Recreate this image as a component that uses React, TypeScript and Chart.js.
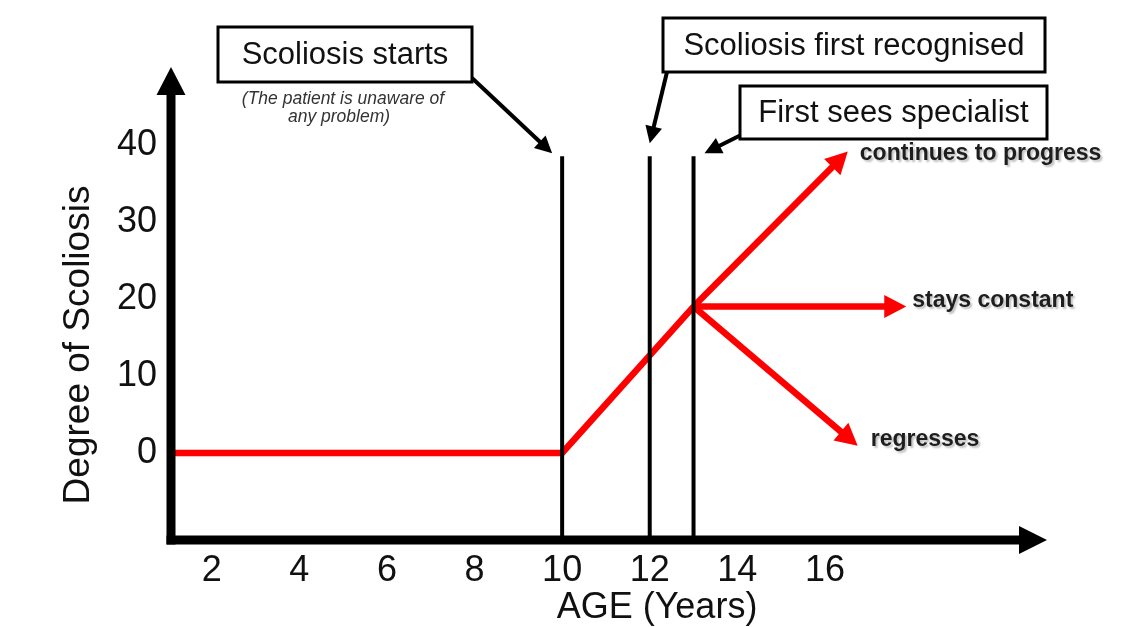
import React, { useEffect, useRef } from "react";
import { Chart, registerables } from "chart.js";

Chart.register(...registerables);

// ---- data ----
const X_TICKS = [2, 4, 6, 8, 10, 12, 14, 16];
const Y_TICKS = [0, 10, 20, 30, 40];
const X_MIN = 1.07;
const X_MAX = 21.07;
const Y_MIN = -11.3;
const Y_MAX = 50.1;

const PATH_AGES = [1.07, 10, 13];
const PATH_DEGREES = [0, 0, 19];

const OUTCOME_LABELS = ["continues to progress", "stays constant", "regresses"];
const OUTCOME_AGES = [16.2, 17.4, 16.4];
const OUTCOME_DEGREES = [37.3, 19, 2.6];

const EVENT_LABELS = ["Scoliosis starts", "Scoliosis first recognised", "First sees specialist"];
const EVENT_AGES = [10, 12, 13];
const EVENT_TOP = 38.5;

const NOTE_LINES = ["(The patient is unaware of", "any problem)"];

const X_TITLE = "AGE (Years)";
const Y_TITLE = "Degree of Scoliosis";

// ---- layout / style (pixels) ----
const FONT = '"Liberation Sans", Arial, Helvetica, sans-serif';
const RED = "#ff0000";
const BOXES = [
  { x: 218, y: 27, w: 254, h: 55 },
  { x: 663, y: 18, w: 382, h: 54 },
  { x: 740, y: 86, w: 307, h: 53 },
];
// start of callout arrow (box corner), tip offset relative to the event line top
const CALLOUT_START = [
  [472, 78],
  [667, 72],
  [741, 135],
];
const CALLOUT_TIP_OFFSET = [
  [-10, -3],
  [0, -13],
  [11, -3],
];
const OUTCOME_LABEL_OFFSET = [
  [12, 2],
  [6, -6],
  [13, -6],
];

function arrowHead(ctx: CanvasRenderingContext2D, fx: number, fy: number, tx: number, ty: number, len: number, half: number, color: string) {
  const a = Math.atan2(ty - fy, tx - fx);
  ctx.save();
  ctx.translate(tx, ty);
  ctx.rotate(a);
  ctx.beginPath();
  ctx.moveTo(0, 0);
  ctx.lineTo(-len, -half);
  ctx.lineTo(-len, half);
  ctx.closePath();
  ctx.fillStyle = color;
  ctx.fill();
  ctx.restore();
}

const annotationPlugin = {
  id: "scoliosisAnnotations",
  afterDatasetsDraw(chart: any) {
    const ctx: CanvasRenderingContext2D = chart.ctx;
    const xs = chart.scales.x;
    const ys = chart.scales.y;
    const area = chart.chartArea;

    ctx.save();

    // red outcome arrowheads + labels
    const jx = xs.getPixelForValue(PATH_AGES[PATH_AGES.length - 1]);
    const jy = ys.getPixelForValue(PATH_DEGREES[PATH_DEGREES.length - 1]);
    OUTCOME_AGES.forEach((age, i) => {
      const ex = xs.getPixelForValue(age);
      const ey = ys.getPixelForValue(OUTCOME_DEGREES[i]);
      const d = Math.hypot(ex - jx, ey - jy);
      const ux = (ex - jx) / d;
      const uy = (ey - jy) / d;
      const tx = ex + ux * 20;
      const ty = ey + uy * 20;
      arrowHead(ctx, jx, jy, tx, ty, 22, 11.5, RED);
      ctx.save();
      ctx.font = `bold 23px ${FONT}`;
      ctx.fillStyle = "#1e1e1e";
      ctx.textAlign = "left";
      ctx.textBaseline = "middle";
      ctx.shadowColor = "rgba(0,0,0,0.25)";
      ctx.shadowOffsetX = 2;
      ctx.shadowOffsetY = 2;
      ctx.shadowBlur = 2;
      ctx.fillText(OUTCOME_LABELS[i], tx + OUTCOME_LABEL_OFFSET[i][0], ty + OUTCOME_LABEL_OFFSET[i][1]);
      ctx.restore();
    });

    // axes with arrowheads
    const left = area.left;
    const bottom = area.bottom;
    ctx.strokeStyle = "#000";
    ctx.lineWidth = 9;
    ctx.lineCap = "butt";
    ctx.beginPath();
    ctx.moveTo(left, bottom + 4.5);
    ctx.lineTo(left, area.top + 26);
    ctx.stroke();
    arrowHead(ctx, left, bottom, left, area.top, 28, 14.5, "#000");
    ctx.beginPath();
    ctx.moveTo(left - 4.5, bottom);
    ctx.lineTo(area.right - 26, bottom);
    ctx.stroke();
    arrowHead(ctx, left, bottom, area.right, bottom, 28, 14, "#000");

    // callout boxes
    EVENT_LABELS.forEach((label, i) => {
      const b = BOXES[i];
      const lx = xs.getPixelForValue(EVENT_AGES[i]);
      const ly = ys.getPixelForValue(EVENT_TOP);
      const [sx, sy] = CALLOUT_START[i];
      const tx = lx + CALLOUT_TIP_OFFSET[i][0];
      const ty = ly + CALLOUT_TIP_OFFSET[i][1];
      const d = Math.hypot(tx - sx, ty - sy);
      const ex = tx - ((tx - sx) / d) * 14;
      const ey = ty - ((ty - sy) / d) * 14;
      ctx.strokeStyle = "#000";
      ctx.lineWidth = 4;
      ctx.beginPath();
      ctx.moveTo(sx, sy);
      ctx.lineTo(ex, ey);
      ctx.stroke();
      arrowHead(ctx, sx, sy, tx, ty, 17, 8.5, "#000");

      ctx.fillStyle = "#fff";
      ctx.fillRect(b.x, b.y, b.w, b.h);
      ctx.lineWidth = 3;
      ctx.strokeRect(b.x, b.y, b.w, b.h);
      ctx.fillStyle = "#111";
      ctx.font = `31px ${FONT}`;
      ctx.textAlign = "center";
      ctx.textBaseline = "middle";
      ctx.fillText(label, b.x + b.w / 2, b.y + b.h / 2 + 1);
    });

    // note under first box
    ctx.font = `italic 17.5px ${FONT}`;
    ctx.fillStyle = "#333";
    ctx.textAlign = "center";
    ctx.textBaseline = "middle";
    ctx.fillText(NOTE_LINES[0], 343, 99);
    ctx.fillText(NOTE_LINES[1], 339, 117);

    // axis titles
    ctx.fillStyle = "#111";
    ctx.textAlign = "center";
    ctx.textBaseline = "alphabetic";
    ctx.font = `36px ${FONT}`;
    ctx.fillText(X_TITLE, 657, 618);
    ctx.save();
    ctx.font = `37px ${FONT}`;
    ctx.translate(89, 345);
    ctx.rotate(-Math.PI / 2);
    ctx.fillText(Y_TITLE, 0, 0);
    ctx.restore();

    ctx.restore();
  },
};

export default function App() {
  const canvasRef = useRef<HTMLCanvasElement | null>(null);

  useEffect(() => {
    const prevMargin = document.body.style.margin;
    document.body.style.margin = "0";
    const canvas = canvasRef.current;
    if (!canvas) return;

    const redLine = {
      borderColor: RED,
      borderWidth: 6.5,
      pointRadius: 0,
      fill: false,
      tension: 0,
      clip: false as any,
      borderCapStyle: "butt" as const,
      borderJoinStyle: "miter" as const,
    };

    const datasets: any[] = [];
    EVENT_AGES.forEach((age, i) => {
      datasets.push({
        label: EVENT_LABELS[i],
        data: [
          { x: age, y: Y_MIN },
          { x: age, y: EVENT_TOP },
        ],
        borderColor: "#000",
        borderWidth: 4,
        pointRadius: 0,
        fill: false,
        clip: false,
      });
    });
    datasets.push({
      label: "progression",
      data: PATH_AGES.map((a, i) => ({ x: a, y: PATH_DEGREES[i] })),
      ...redLine,
    });
    OUTCOME_AGES.forEach((a, i) => {
      datasets.push({
        label: OUTCOME_LABELS[i],
        data: [
          { x: PATH_AGES[PATH_AGES.length - 1], y: PATH_DEGREES[PATH_DEGREES.length - 1] },
          { x: a, y: OUTCOME_DEGREES[i] },
        ],
        ...redLine,
      });
    });

    const chart = new Chart(canvas, {
      type: "line",
      data: { datasets },
      options: {
        animation: false,
        responsive: false,
        maintainAspectRatio: false,
        events: [],
        layout: { padding: { left: 0, top: 67, right: 93, bottom: 0 } },
        plugins: {
          legend: { display: false },
          tooltip: { enabled: false },
          title: { display: false },
        },
        scales: {
          x: {
            type: "linear",
            min: X_MIN,
            max: X_MAX,
            grid: { display: false, drawTicks: false },
            border: { display: false },
            afterBuildTicks: (s: any) => {
              s.ticks = X_TICKS.map((v) => ({ value: v }));
            },
            afterFit: (s: any) => {
              s.height = 87;
            },
            ticks: {
              autoSkip: false,
              maxRotation: 0,
              padding: 9,
              color: "#111",
              font: { family: FONT, size: 36 },
              callback: (v: any) => String(v),
            },
          },
          y: {
            type: "linear",
            min: Y_MIN,
            max: Y_MAX,
            grid: { display: false, drawTicks: false },
            border: { display: false },
            afterBuildTicks: (s: any) => {
              s.ticks = Y_TICKS.map((v) => ({ value: v }));
            },
            afterFit: (s: any) => {
              s.width = 171;
            },
            ticks: {
              padding: 14,
              color: "#111",
              font: { family: FONT, size: 36 },
              callback: (v: any) => String(v),
            },
          },
        },
      },
      plugins: [annotationPlugin],
    });

    return () => {
      chart.destroy();
      document.body.style.margin = prevMargin;
    };
  }, []);

  return (
    <div style={{ position: "fixed", left: 0, top: 0, width: 1140, height: 627, background: "#fff" }}>
      <canvas ref={canvasRef} width={1140} height={627} style={{ display: "block", width: 1140, height: 627 }} />
    </div>
  );
}
